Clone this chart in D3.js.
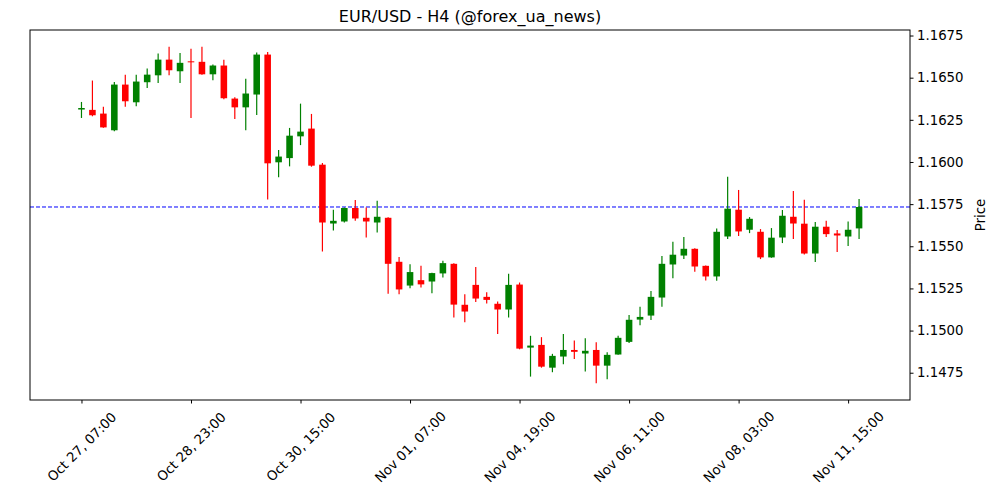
<!DOCTYPE html>
<html>
<head>
<meta charset="utf-8">
<script src="https://cdn.jsdelivr.net/npm/d3@7"></script>
<style>
  body { margin: 0; background: #fff; }
  text { font-family: "DejaVu Sans", sans-serif; fill: #000; }
</style>
</head>
<body>
<div id="chart"></div>
<script>
// H4 candles (index-based x axis)
const tickIndex = [0, 10, 20, 30, 40, 50, 60, 70];
const tickLabels = ['Oct 27, 07:00', 'Oct 28, 23:00', 'Oct 30, 15:00', 'Nov 01, 07:00',
                    'Nov 04, 19:00', 'Nov 06, 11:00', 'Nov 08, 03:00', 'Nov 11, 15:00'];

const opens = [
  1.16311, 1.16309, 1.16287, 1.16188, 1.16459, 1.16354, 1.16473, 1.16514, 1.16607, 1.16538,
  1.16597, 1.16594, 1.16520, 1.16572, 1.16376, 1.16324, 1.16400, 1.16637, 1.15998, 1.16023,
  1.16152, 1.16198, 1.15984, 1.15635, 1.15647, 1.15727, 1.15669, 1.15641, 1.15669, 1.15408,
  1.15267, 1.15299, 1.15291, 1.15339, 1.15396, 1.15153, 1.15271, 1.15200, 1.15159, 1.15125,
  1.15273, 1.14899, 1.14915, 1.14780, 1.14846, 1.14885, 1.14864, 1.14885, 1.14792, 1.14858,
  1.14933, 1.15065, 1.15089, 1.15196, 1.15392, 1.15445, 1.15485, 1.15384, 1.15321, 1.15558,
  1.15717, 1.15598, 1.15586, 1.15434, 1.15552, 1.15675, 1.15634, 1.15457, 1.15616, 1.15576,
  1.15558, 1.15606
];
const highs = [
  1.16356, 1.16483, 1.16328, 1.16475, 1.16518, 1.16518, 1.16554, 1.16643, 1.16683, 1.16647,
  1.16671, 1.16683, 1.16578, 1.16607, 1.16384, 1.16493, 1.16649, 1.16653, 1.16071, 1.16202,
  1.16346, 1.16285, 1.15994, 1.15717, 1.15730, 1.15774, 1.15730, 1.15770, 1.15672, 1.15436,
  1.15394, 1.15384, 1.15343, 1.15414, 1.15400, 1.15216, 1.15377, 1.15228, 1.15172, 1.15337,
  1.15285, 1.14969, 1.14961, 1.14862, 1.14980, 1.14941, 1.14955, 1.14931, 1.14872, 1.14969,
  1.15092, 1.15141, 1.15234, 1.15442, 1.15527, 1.15555, 1.15488, 1.15386, 1.15606, 1.15913,
  1.15834, 1.15673, 1.15602, 1.15608, 1.15715, 1.15828, 1.15776, 1.15644, 1.15651, 1.15596,
  1.15647, 1.15780
];
const lows = [
  1.16261, 1.16271, 1.16203, 1.16182, 1.16327, 1.16330, 1.16439, 1.16469, 1.16514, 1.16469,
  1.16261, 1.16518, 1.16485, 1.16372, 1.16255, 1.16188, 1.16279, 1.15778, 1.15909, 1.15974,
  1.16100, 1.15972, 1.15469, 1.15594, 1.15641, 1.15651, 1.15552, 1.15582, 1.15218, 1.15216,
  1.15251, 1.15255, 1.15222, 1.15315, 1.15077, 1.15050, 1.15169, 1.15160, 1.14979, 1.15077,
  1.14889, 1.14727, 1.14780, 1.14753, 1.14801, 1.14832, 1.14757, 1.14688, 1.14711, 1.14856,
  1.14927, 1.15032, 1.15062, 1.15141, 1.15311, 1.15424, 1.15349, 1.15297, 1.15295, 1.15543,
  1.15561, 1.15578, 1.15424, 1.15432, 1.15519, 1.15543, 1.15451, 1.15406, 1.15555, 1.15466,
  1.15501, 1.15543
];
const closes = [
  1.16320, 1.16277, 1.16205, 1.16459, 1.16360, 1.16477, 1.16518, 1.16607, 1.16544, 1.16588,
  1.16591, 1.16520, 1.16572, 1.16378, 1.16324, 1.16406, 1.16637, 1.15992, 1.16032, 1.16156,
  1.16180, 1.15978, 1.15641, 1.15651, 1.15727, 1.15665, 1.15647, 1.15675, 1.15396, 1.15244,
  1.15347, 1.15274, 1.15341, 1.15400, 1.15154, 1.15113, 1.15190, 1.15182, 1.15125, 1.15271,
  1.14893, 1.14911, 1.14786, 1.14850, 1.14885, 1.14874, 1.14880, 1.14792, 1.14856, 1.14957,
  1.15064, 1.15081, 1.15200, 1.15396, 1.15450, 1.15485, 1.15380, 1.15321, 1.15586, 1.15723,
  1.15588, 1.15663, 1.15434, 1.15551, 1.15681, 1.15635, 1.15457, 1.15616, 1.15572, 1.15564,
  1.15598, 1.15733
];
const yTicks = [1.1475, 1.1500, 1.1525, 1.1550, 1.1575, 1.1600, 1.1625, 1.1650, 1.1675];
const lastPrice = closes[closes.length - 1];

const candles = opens.map((o, i) => ({ i: i, o: o, h: highs[i], l: lows[i], c: closes[i] }));

const margin = {top: 30, right: 90, bottom: 100, left: 30},
      width = 1000 - margin.left - margin.right,
      height = 500 - margin.top - margin.bottom;

const svg = d3.select('#chart').append('svg')
  .attr('width', 1000)
  .attr('height', 500);

const g = svg.append('g')
  .attr('transform', `translate(${margin.left},${margin.top})`);

// same 5% padding matplotlib adds
const lo = d3.min(lows), hi = d3.max(highs), pad = (hi - lo) * 0.05;
const y = d3.scaleLinear().domain([lo - pad, hi + pad]).range([height, 0]);
const x = d3.scaleLinear().domain([-4.7, 75.65]).range([0, width]);
const bodyW = (x(1) - x(0)) * 0.6;

// last price line
g.append('line')
  .attr('x1', 0).attr('x2', width)
  .attr('y1', y(lastPrice)).attr('y2', y(lastPrice))
  .attr('stroke', 'blue')
  .attr('stroke-width', 1)
  .attr('stroke-dasharray', '4,2');

const candle = g.selectAll('.candle')
  .data(candles)
  .enter().append('g')
  .attr('class', 'candle');

const col = d => d.c >= d.o ? 'green' : 'red';

candle.append('line')
  .attr('x1', d => x(d.i)).attr('x2', d => x(d.i))
  .attr('y1', d => y(d.h)).attr('y2', d => y(d.l))
  .attr('stroke', col)
  .attr('stroke-width', 1.2);

candle.append('rect')
  .attr('x', d => x(d.i) - bodyW / 2)
  .attr('width', bodyW)
  .attr('y', d => y(Math.max(d.o, d.c)))
  .attr('height', d => Math.max(1, Math.abs(y(d.o) - y(d.c))))
  .attr('fill', col);

// frame
g.append('rect')
  .attr('width', width).attr('height', height)
  .attr('fill', 'none').attr('stroke', '#000').attr('stroke-width', 1);

// right y axis
const yAxis = g.append('g')
  .attr('transform', `translate(${width},0)`)
  .call(d3.axisRight(y).tickValues(yTicks).tickFormat(d3.format('.4f')).tickSize(3.5).tickPadding(3.5));
yAxis.select('.domain').remove();
yAxis.selectAll('text').style('font-size', '13.3px');

// bottom x axis, labels rotated
const xAxis = g.append('g')
  .attr('transform', `translate(0,${height})`)
  .call(d3.axisBottom(x).tickValues(tickIndex).tickFormat((d, k) => tickLabels[k]).tickSize(3.5));
xAxis.select('.domain').remove();
xAxis.selectAll('text')
  .style('font-size', '13.3px')
  .attr('text-anchor', 'middle')
  .attr('dominant-baseline', 'central')
  .attr('y', 0)
  .attr('dy', 0)
  .attr('transform', 'translate(0,47) rotate(-45)');

svg.append('text')
  .attr('x', margin.left + width / 2)
  .attr('y', 22)
  .attr('text-anchor', 'middle')
  .style('font-size', '16px')
  .text('EUR/USD - H4 (@forex_ua_news)');

svg.append('text')
  .attr('transform', `translate(985,${margin.top + height / 2}) rotate(-90)`)
  .attr('text-anchor', 'middle')
  .style('font-size', '13.3px')
  .text('Price');
</script>
</body>
</html>
